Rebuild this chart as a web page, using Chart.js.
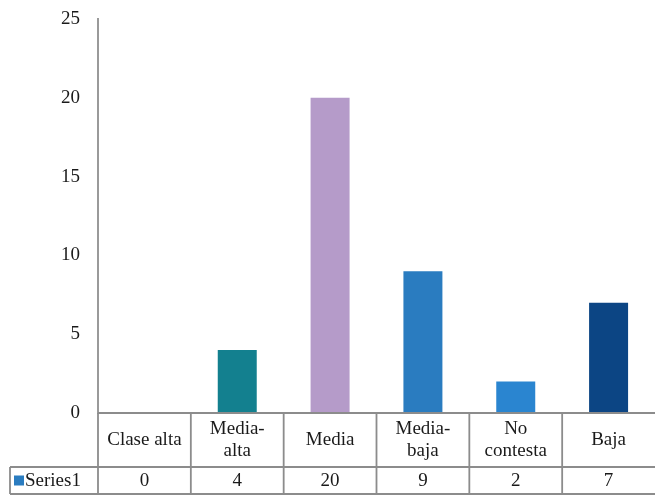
<!DOCTYPE html>
<html>
<head>
<meta charset="utf-8">
<script src="https://cdn.jsdelivr.net/npm/chart.js@4"></script>
<style>
  html, body { margin: 0; padding: 0; background: #fff; }
  #wrap { width: 655px; height: 497px; }
</style>
</head>
<body>
<div id="wrap"><canvas id="chart"></canvas></div>
<script>
// Chart data
const categories = ['Clase alta', 'Media-alta', 'Media', 'Media-baja', 'No contesta', 'Baja'];
const categoryLines = [['Clase alta'], ['Media-', 'alta'], ['Media'], ['Media-', 'baja'], ['No', 'contesta'], ['Baja']];
const seriesName = 'Series1';
const seriesValues = [0, 4, 20, 9, 2, 7];
const barColors = ['#2a7cc0', '#13808f', '#b59bc9', '#2a7cc0', '#2a85d0', '#0c4584'];
const yTicks = [0, 5, 10, 15, 20, 25];

const FONT = '"Liberation Serif", "DejaVu Serif", serif';
const TABLE_ROW1 = 54;   // height of category row
const TABLE_ROW2 = 27;   // height of values row
const TABLE_LEFT = 10;   // x where the legend cell starts

// Draws the data table under the x axis, using the x scale for columns
const dataTablePlugin = {
  id: 'dataTable',
  afterDraw(chart) {
    const ctx = chart.ctx;
    const x = chart.scales.x;
    const area = chart.chartArea;
    const half = (area.right - area.left) / categories.length / 2;
    const y0 = area.bottom;
    const y1 = y0 + TABLE_ROW1;
    const y2 = y1 + TABLE_ROW2;

    ctx.save();
    ctx.strokeStyle = '#8c8c8c';
    ctx.lineWidth = 1.8;
    ctx.beginPath();
    // horizontal lines
    ctx.moveTo(area.left, y0); ctx.lineTo(chart.width, y0);
    ctx.moveTo(TABLE_LEFT, y1); ctx.lineTo(chart.width, y1);
    ctx.moveTo(TABLE_LEFT, y2); ctx.lineTo(chart.width, y2);
    // vertical lines at column boundaries
    ctx.moveTo(TABLE_LEFT, y1); ctx.lineTo(TABLE_LEFT, y2);
    categories.forEach((c, i) => {
      const left = x.getPixelForValue(i) - half;
      ctx.moveTo(left, y0); ctx.lineTo(left, y2);
    });
    ctx.stroke();

    // category labels and values
    ctx.fillStyle = '#1a1a1a';
    ctx.textAlign = 'center';
    ctx.textBaseline = 'middle';
    ctx.font = '19px ' + FONT;
    categories.forEach((c, i) => {
      const cx = x.getPixelForValue(i);
      const lines = categoryLines[i];
      const lh = 22;
      const mid = (y0 + y1) / 2;
      lines.forEach((ln, j) => {
        ctx.fillText(ln, cx, mid + (j - (lines.length - 1) / 2) * lh);
      });
      ctx.fillText(String(seriesValues[i]), cx, (y1 + y2) / 2 + 1);
    });

    // legend key in the values row
    ctx.fillStyle = '#2a7cc0';
    ctx.fillRect(TABLE_LEFT + 4, (y1 + y2) / 2 - 5, 10, 10);
    ctx.fillStyle = '#1a1a1a';
    ctx.textAlign = 'left';
    ctx.fillText(seriesName, TABLE_LEFT + 15, (y1 + y2) / 2 + 1);
    ctx.restore();
  }
};

const ctx = document.getElementById('chart').getContext('2d');
const chart = new Chart(ctx, {
  type: 'bar',
  data: {
    labels: categories,
    datasets: [{
      label: seriesName,
      data: seriesValues,
      backgroundColor: barColors,
      borderWidth: 0,
      categoryPercentage: 1,
      barPercentage: 0.42
    }]
  },
  options: {
    responsive: true,
    maintainAspectRatio: false,
    animation: false,
    layout: { padding: { top: 19, bottom: 84, right: 0, left: 0 } },
    plugins: {
      legend: { display: false },
      tooltip: { enabled: false }
    },
    scales: {
      x: {
        display: false,
        offset: true
      },
      y: {
        min: 0,
        max: 25,
        afterFit(scale) {
          scale.width = 98;
          scale.paddingTop = 0;
          scale.paddingBottom = 0;
        },
        afterBuildTicks(scale) { scale.ticks = yTicks.map(v => ({ value: v })); },
        grid: { display: false, drawTicks: false },
        border: { display: true, color: '#9a9a9a', width: 2 },
        ticks: {
          padding: 18,
          color: '#1a1a1a',
          font: { family: FONT, size: 19 }
        }
      }
    }
  },
  plugins: [dataTablePlugin]
});
</script>
</body>
</html>
